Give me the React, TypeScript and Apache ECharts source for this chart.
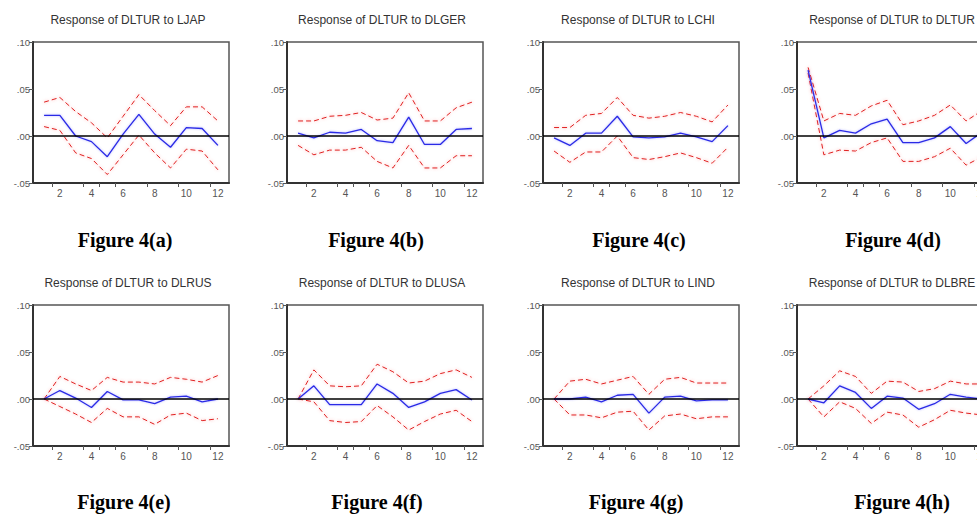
import React, { useEffect, useRef } from "react";
import * as echarts from "echarts";

// ---- data ----
const periods = [1, 2, 3, 4, 5, 6, 7, 8, 9, 10, 11, 12];
const responseVar = "DLTUR";
const shockNames = ["LJAP", "DLGER", "LCHI", "DLTUR", "DLRUS", "DLUSA", "LIND", "DLBRE"];
const captions = ["Figure 4(a)", "Figure 4(b)", "Figure 4(c)", "Figure 4(d)", "Figure 4(e)", "Figure 4(f)", "Figure 4(g)", "Figure 4(h)"];
const yTickStep = 0.05;
const yMin = -0.05;
const yMax = 0.10;
const xLabelValues = [2, 4, 6, 8, 10, 12];
const xTickValues = [1.5, 3.5, 4.5, 5.5, 7.5, 9.5, 11.5];

const irfA = [0.022, 0.022, 0.000, -0.006, -0.022, 0.002, 0.023, 0.002, -0.012, 0.009, 0.008, -0.010];
const upA = [0.036, 0.041, 0.026, 0.014, -0.002, 0.021, 0.044, 0.027, 0.011, 0.031, 0.031, 0.016];
const loA = [0.010, 0.006, -0.018, -0.024, -0.041, -0.020, 0.001, -0.018, -0.034, -0.014, -0.016, -0.036];

const irfB = [0.003, -0.002, 0.004, 0.003, 0.007, -0.005, -0.007, 0.020, -0.009, -0.009, 0.007, 0.008];
const upB = [0.016, 0.016, 0.021, 0.022, 0.025, 0.017, 0.019, 0.046, 0.016, 0.016, 0.030, 0.036];
const loB = [-0.010, -0.020, -0.015, -0.015, -0.012, -0.027, -0.034, -0.010, -0.034, -0.034, -0.021, -0.021];

const irfC = [-0.002, -0.010, 0.003, 0.003, 0.021, -0.001, -0.002, -0.001, 0.003, -0.001, -0.006, 0.011];
const upC = [0.009, 0.009, 0.022, 0.024, 0.041, 0.022, 0.019, 0.021, 0.025, 0.021, 0.015, 0.033];
const loC = [-0.016, -0.028, -0.017, -0.017, 0.000, -0.023, -0.025, -0.022, -0.018, -0.023, -0.029, -0.012];

const irfD = [0.070, -0.002, 0.006, 0.003, 0.013, 0.018, -0.007, -0.007, -0.002, 0.010, -0.008, 0.004];
const upD = [0.073, 0.016, 0.024, 0.022, 0.032, 0.038, 0.012, 0.016, 0.022, 0.033, 0.016, 0.027];
const loD = [0.067, -0.020, -0.015, -0.016, -0.007, -0.002, -0.027, -0.027, -0.022, -0.013, -0.031, -0.022];

const irfE = [0.000, 0.009, 0.001, -0.009, 0.008, -0.001, -0.001, -0.005, 0.002, 0.003, -0.003, 0.000];
const upE = [0.000, 0.024, 0.016, 0.009, 0.023, 0.018, 0.018, 0.016, 0.023, 0.021, 0.018, 0.025];
const loE = [0.000, -0.008, -0.016, -0.025, -0.010, -0.019, -0.019, -0.027, -0.017, -0.015, -0.023, -0.021];

const irfF = [0.000, 0.014, -0.006, -0.006, -0.006, 0.016, 0.006, -0.009, -0.003, 0.006, 0.010, -0.001];
const upF = [0.000, 0.031, 0.014, 0.013, 0.014, 0.037, 0.029, 0.017, 0.019, 0.027, 0.031, 0.023];
const loF = [0.000, -0.003, -0.023, -0.025, -0.024, -0.007, -0.019, -0.033, -0.024, -0.016, -0.012, -0.024];

const irfG = [0.000, 0.000, 0.002, -0.003, 0.004, 0.005, -0.015, 0.002, 0.003, -0.002, -0.001, -0.001];
const upG = [0.000, 0.019, 0.021, 0.016, 0.020, 0.024, 0.005, 0.021, 0.023, 0.017, 0.017, 0.017];
const loG = [0.000, -0.017, -0.017, -0.020, -0.014, -0.013, -0.033, -0.018, -0.016, -0.021, -0.019, -0.019];

const irfH = [0.000, -0.004, 0.014, 0.007, -0.010, 0.003, 0.001, -0.011, -0.005, 0.005, 0.002, 0.000];
const upH = [0.000, 0.014, 0.030, 0.024, 0.006, 0.019, 0.018, 0.008, 0.011, 0.019, 0.016, 0.016];
const loH = [0.000, -0.019, -0.003, -0.010, -0.026, -0.014, -0.017, -0.030, -0.022, -0.012, -0.015, -0.017];

const panelIrf = [irfA, irfB, irfC, irfD, irfE, irfF, irfG, irfH];
const panelUp = [upA, upB, upC, upD, upE, upF, upG, upH];
const panelLo = [loA, loB, loC, loD, loE, loF, loG, loH];

// ---- layout ----
const colLefts = [33, 287, 543, 797];
const plotWidth = 196;
const rowTops = [42, 305];
const plotHeight = 141;
const titleY = [20, 283];
const captionY = [240, 502];
const captionX = [125, 376, 639, 893, 124, 377, 636, 902];

const fmtY = (v: number) => {
  if (Math.abs(v) < 1e-9) return ".00";
  const s = v.toFixed(2);
  return s.replace("0.", ".");
};

export default function App() {
  const ref = useRef<HTMLDivElement>(null);
  useEffect(() => {
    document.body.style.margin = "0";
    if (!ref.current) return;
    const chart = echarts.init(ref.current, undefined, { renderer: "svg" });

    const grids: any[] = [];
    const xAxes: any[] = [];
    const yAxes: any[] = [];
    const series: any[] = [];
    const graphics: any[] = [];

    for (let i = 0; i < 8; i++) {
      const col = i % 4;
      const row = Math.floor(i / 4);
      grids.push({
        left: colLefts[col],
        top: rowTops[row],
        width: plotWidth,
        height: plotHeight,
        show: true,
        borderColor: "#555",
        borderWidth: 1.5,
        backgroundColor: "#fff",
      });
      xAxes.push({
        gridIndex: i,
        type: "value",
        min: 0.3,
        max: 12.7,
        axisLine: { show: true, onZero: false, lineStyle: { color: "#333", width: 2 } },
        axisTick: { show: true, customValues: xTickValues, length: 4, lineStyle: { color: "#555" } },
        axisLabel: {
          customValues: xLabelValues,
          color: "#555",
          fontSize: 10,
          margin: 5,
          fontFamily: "Liberation Sans",
        },
        splitLine: { show: false },
      });
      yAxes.push({
        gridIndex: i,
        type: "value",
        min: yMin,
        max: yMax,
        interval: yTickStep,
        axisLine: { show: true, lineStyle: { color: "#333", width: 2 } },
        axisTick: { show: true, length: 4, lineStyle: { color: "#555" } },
        axisLabel: {
          formatter: fmtY,
          color: "#555",
          fontSize: 9.5,
          margin: 3,
          fontFamily: "Liberation Sans",
        },
        splitLine: { show: false },
      });

      const toPts = (arr: number[]) => periods.map((p, k) => [p, arr[k]]);
      const red = {
        color: "#e02020",
        width: 1,
        type: [5, 3],
        shadowColor: "rgba(255,90,90,0.55)",
        shadowBlur: 3,
      };
      series.push({
        type: "line",
        xAxisIndex: i,
        yAxisIndex: i,
        data: toPts(panelUp[i]),
        symbol: "none",
        lineStyle: red,
        itemStyle: { color: "#e02020" },
        z: 2,
      });
      series.push({
        type: "line",
        xAxisIndex: i,
        yAxisIndex: i,
        data: toPts(panelLo[i]),
        symbol: "none",
        lineStyle: red,
        itemStyle: { color: "#e02020" },
        z: 2,
      });
      series.push({
        type: "line",
        xAxisIndex: i,
        yAxisIndex: i,
        data: toPts(panelIrf[i]),
        symbol: "none",
        lineStyle: {
          color: "#2a2ae6",
          width: 1.3,
          shadowColor: "rgba(90,90,255,0.45)",
          shadowBlur: 2,
        },
        itemStyle: { color: "#2a2ae6" },
        z: 3,
        markLine: {
          silent: true,
          symbol: "none",
          label: { show: false },
          lineStyle: { color: "#000", width: 1.5, type: "solid" },
          data: [{ yAxis: 0 }],
          z: 4,
        },
      });

      const tx = colLefts[col] + plotWidth / 2 - 3;
      graphics.push({
        type: "text",
        x: tx,
        y: titleY[row],
        style: {
          text: `Response of ${responseVar} to ${shockNames[i]}`,
          font: '12px "Liberation Sans"',
          fill: "#333",
          align: "center",
          verticalAlign: "middle",
          textAlign: "center",
          textVerticalAlign: "middle",
        },
      });
      graphics.push({
        type: "text",
        x: captionX[i],
        y: captionY[row],
        style: {
          text: captions[i],
          font: 'bold 20px "Liberation Serif"',
          fill: "#000",
          align: "center",
          verticalAlign: "middle",
          textAlign: "center",
          textVerticalAlign: "middle",
        },
      });
    }

    chart.setOption({
      animation: false,
      backgroundColor: "#fff",
      grid: grids,
      xAxis: xAxes,
      yAxis: yAxes,
      series,
      graphic: graphics,
    });
    return () => chart.dispose();
  }, []);

  return (
    <div style={{ width: 977, height: 517, overflow: "hidden", position: "relative", background: "#fff" }}>
      <div ref={ref} style={{ width: 1010, height: 517 }} />
    </div>
  );
}
